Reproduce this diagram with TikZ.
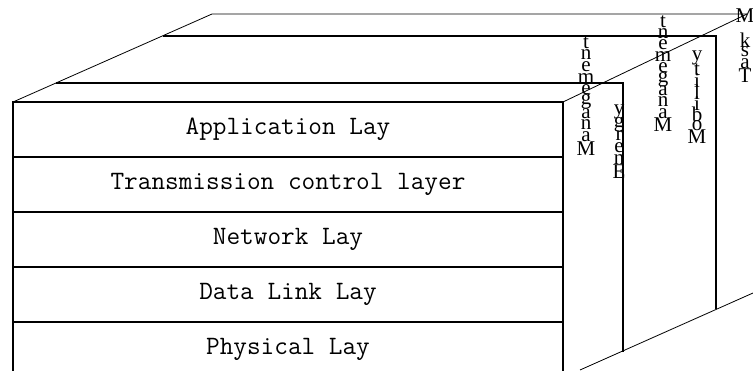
\documentclass[tikz,border=0pt]{standalone}
\usepackage{fontspec}
\newfontfamily\letrafont{Liberation Serif}
\usepackage{tikz}
\usetikzlibrary{positioning}
\tikzset{
  capa/.style={draw,line width=1.3pt,outer sep=0pt,inner sep=0pt,
    minimum width=550pt,minimum height=55pt,font=\fontsize{26.5}{28}\selectfont\ttfamily},
  letra/.style={inner sep=0pt,font=\fontsize{21}{21}\selectfont\letrafont},
  fina/.style={line width=0.8pt},
  media/.style={line width=1.2pt}
}
% letras apiladas: nombre, x, y arriba, paso, lista
\newcommand{\vletras}[5]{%
  \foreach \l [count=\i from 0] in {#5}
    \node[letra] (#1-\i) at (#2,#3+#4*\i) {\l};}

\begin{document}
\begin{tikzpicture}[x=1pt,y=-1pt]
  \useasboundingbox (0,0) rectangle (753,370);

  % capas del frente
  \node[capa] (app) at (288,129.5) {Application Lay};
  \node[capa,below=0pt of app] (tcl) {Transmission control layer};
  \node[capa,below=0pt of tcl] (net) {Network Lay};
  \node[capa,below=0pt of net] (dll) {Data Link Lay};
  \node[capa,below=0pt of dll] (phy) {Physical Lay};

  % planos de atras
  \coordinate (t1) at (212,14);
  \coordinate (t2) at (747,14);
  \draw[fina] (app.north west) -- (t1) -- (t2);
  \draw[fina] (app.north east) -- (t2);
  \draw[media] (56,83) -- (623,83) -- (623,352);
  \draw[media] (163,36) -- (716,36) -- (716,309);
  \draw[fina] (580,370) -- (753,293);

  % etiquetas verticales
  \vletras{mg}{586}{43}{11.7}{t,n,e,m,e,g,a,n,a,M}
  \vletras{en}{619}{112}{12}{y,g,r,e,n,E}
  \vletras{mn}{663}{22}{11.4}{t,n,e,m,e,g,a,n,a,M}
  \vletras{mo}{697}{58}{11.3}{y,t,i,l,i,b,o,M}
  \vletras{tk}{745}{16}{12}{M,{},k,s,a,T}
\end{tikzpicture}
\end{document}
